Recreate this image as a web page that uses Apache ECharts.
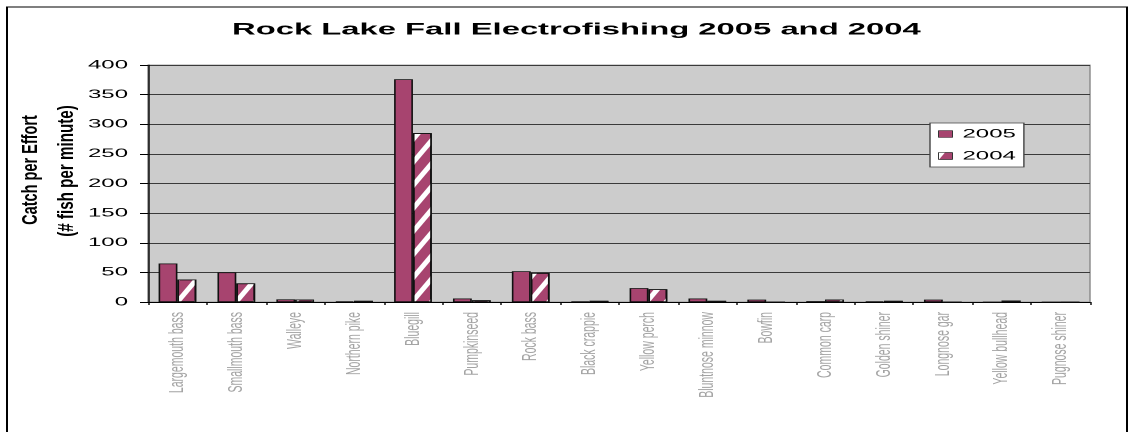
<!DOCTYPE html>
<html><head><meta charset="utf-8">
<script src="https://cdn.jsdelivr.net/npm/echarts@6/dist/echarts.min.js"></script>
<style>html,body{margin:0;padding:0;background:#fff;overflow:hidden;width:1130px;height:432px}
#c{width:565px;height:432px;transform:scaleX(2);transform-origin:0 0}</style>
</head><body><div id="c"></div>
<script>
const categories = ["Largemouth bass","Smallmouth bass","Walleye","Northern pike","Bluegill","Pumpkinseed","Rock bass","Black crappie","Yellow perch","Bluntnose minnow","Bowfin","Common carp","Golden shiner","Longnose gar","Yellow bullhead","Pugnose shiner"];
const values2005 = [65, 50, 4.5, 1, 376, 6, 52, 1, 23.5, 6, 4, 1.5, 1, 4, 0, 0];
const values2004 = [38, 31.5, 4, 2, 285, 3, 49, 2, 21.5, 2, 0, 4, 2, 0, 2.5, 0];
const seriesNames = ["2005","2004"];
const yTicks = [0,50,100,150,200,250,300,350,400];

// The reference is drawn at half width and stretched 2x horizontally (like the original image)
const chart = echarts.init(document.getElementById('c'), null, {devicePixelRatio:2});
const barColor = '#A7446F';
const font = 'Liberation Sans, Arial, sans-serif';
chart.setOption({
  animation:false,
  backgroundColor:'#fff',
  title:{text:'Rock Lake Fall Electrofishing 2005 and 2004',left:116,top:22,padding:0,
    textStyle:{fontFamily:font,fontWeight:'bold',fontSize:16.4,color:'#000'}},
  graphic:[
    {type:'rect',shape:{x:3.5,y:7,width:560,height:440},style:{fill:'none',stroke:'#000',lineWidth:1},silent:true},
    {type:'text',rotation:Math.PI/2,x:15.5,y:170,scaleX:1.32,style:{text:'Catch per Effort',fill:'#000',font:'bold 11px '+font,textAlign:'center',textVerticalAlign:'middle'}},
    {type:'text',rotation:Math.PI/2,x:33.5,y:171,scaleX:1.38,style:{text:'(# fish per minute)',fill:'#000',font:'bold 11px '+font,textAlign:'center',textVerticalAlign:'middle'}}
  ],
  legend:{data:seriesNames,left:465,top:123,orient:'vertical',backgroundColor:'#fff',borderColor:'#444',borderWidth:0.7,
    padding:[5,4,5,4],itemGap:10,itemWidth:7,itemHeight:7,icon:'rect',
    itemStyle:{borderColor:'#333',borderWidth:0.5},
    textStyle:{fontFamily:font,fontSize:12,color:'#000',padding:[0,0,0,0]}},
  grid:{left:74,top:65,right:20,bottom:130,show:true,backgroundColor:'#CCCCCC',borderColor:'#888',borderWidth:0.7},
  xAxis:{type:'category',data:categories,
    axisLine:{lineStyle:{color:'#000',width:1}},axisTick:{show:true,alignWithLabel:false,lineStyle:{color:'#000',width:0.7},length:3},
    axisLabel:{rotate:90,interval:0,color:'#a4a4a4',fontSize:10.5,fontFamily:font,margin:10},
    splitLine:{show:false}},
  yAxis:{type:'value',min:0,max:400,interval:50,
    axisLine:{show:true,lineStyle:{color:'#000',width:0.7}},axisTick:{show:true,length:4,lineStyle:{color:'#000',width:1}},
    axisLabel:{color:'#000',fontSize:12,fontFamily:font,margin:10,
      formatter:v=>yTicks.includes(v)?String(v):''},
    splitLine:{show:true,lineStyle:{color:'#3a3a3a',width:1}}},
  series:[
    {name:seriesNames[0],type:'bar',data:values2005,barGap:'0%',barCategoryGap:'36%',
      itemStyle:{color:barColor,borderColor:'#111',borderWidth:0.8}},
    {name:seriesNames[1],type:'bar',data:values2004,
      itemStyle:{color:barColor,borderColor:'#111',borderWidth:0.8,
        decal:{symbol:'rect',color:'#fff',dashArrayX:[1,0],dashArrayY:[3,6],rotation:-1.17,symbolSize:1}}}
  ]
});
</script></body></html>
